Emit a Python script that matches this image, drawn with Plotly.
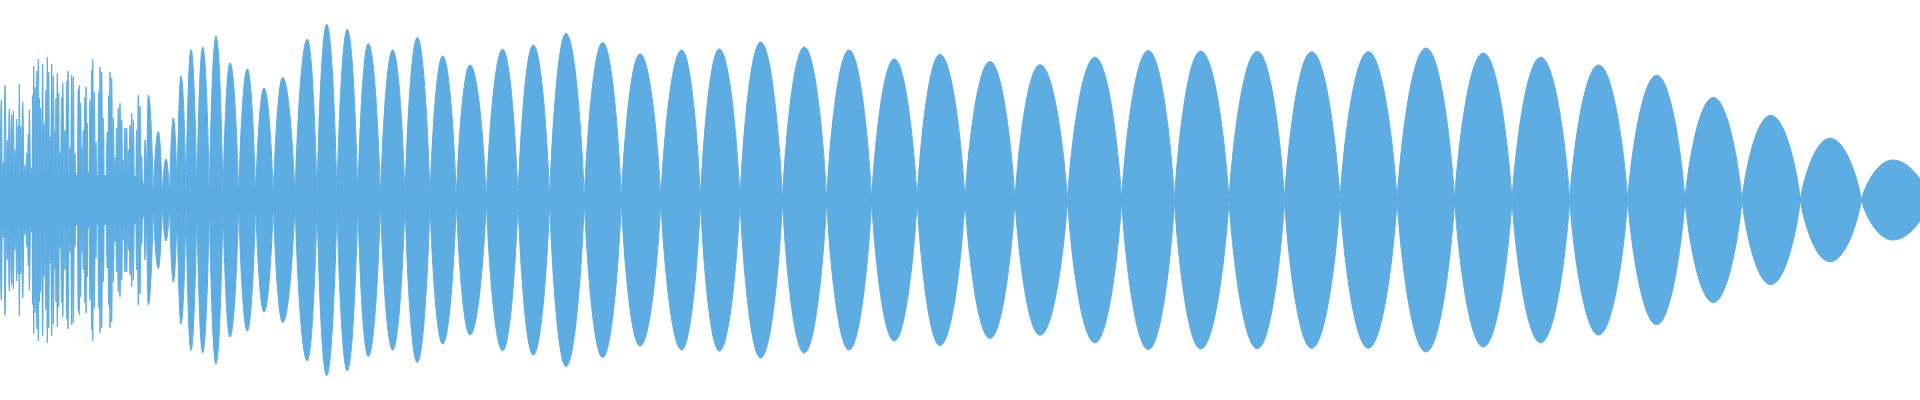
import numpy as np
import plotly.graph_objects as go

BLUE = "#5DADE2"

# dense spikes on the left (x in px-like units, amplitude from centre line)
spike_x = [1.3, 3.3, 5.0, 7.3, 9.3, 11.7, 13.3, 15.0, 16.7, 18.3, 19.3, 20.7, 22.7, 25.0,
           26.7, 28.3, 29.3, 31.7, 32.7, 33.7, 35.0, 37.0, 38.3, 39.5, 40.7, 42.7, 44.0,
           46.0, 47.3, 48.7, 50.0, 51.7, 53.3, 55.0, 56.0, 57.3, 58.7, 60.0, 61.7, 62.7,
           65.0, 66.7, 68.0, 70.0, 71.7, 73.3, 75.0, 76.7, 78.3, 79.3, 80.7, 81.7, 83.3,
           85.0, 86.0, 87.3, 88.3, 90.0, 91.7, 92.7, 94.3, 96.0, 97.3, 98.7, 100.0, 101.7,
           103.3, 105.0, 107.3, 108.7, 110.0, 111.7, 113.3, 115.0, 116.7, 118.3, 120.0,
           121.7, 123.3, 125.0, 126.7, 128.3, 130.0, 131.7, 133.3, 135.0, 136.7, 138.3,
           140.0, 141.7, 143.3, 145.0]
spike_amp = [100, 38, 115, 60, 91, 85, 89, 50, 81, 74, 116, 74, 98, 35, 47, 66, 90, 32,
             105, 134, 113, 129, 141, 102, 92, 136, 77, 110, 143, 128, 63, 136, 124, 70,
             102, 127, 107, 48, 103, 117, 70, 119, 129, 53, 125, 123, 47, 25, 111, 115,
             97, 52, 70, 103, 113, 77, 28, 100, 130, 141, 108, 58, 22, 108, 133, 128, 82,
             23, 68, 105, 128, 122, 82, 42, 72, 92, 97, 80, 40, 72, 72, 50, 75, 87, 80,
             20, 70, 105, 94, 45, 10, 60]

# wider lobes further right
lobe_x = [148.3, 158.3, 166.0, 173.3, 181.0, 191.0, 202.7, 216.0, 230.0, 247.3, 264.0,
          282.7, 307.3, 326.7, 347.3, 368.3, 392.7, 417.3, 442.7, 470.0, 502.7, 533.3,
          566.0, 602.7, 640.0, 681.7, 719.3, 760.7, 804.3, 849.0, 894.3, 940.0, 990.0,
          1040.0, 1095.0, 1148.3, 1200.7, 1257.3, 1311.7, 1368.3, 1426.0, 1483.3,
          1540.7, 1598.7, 1656.7, 1713.3, 1770.7, 1830.0, 1892.7]
lobe_amp = [105, 68.5, 41, 82, 124, 150.5, 153, 164, 137, 131, 112, 122.5, 160.7, 175.7,
            170.7, 156.5, 150, 162.5, 144, 135, 150.7, 155, 166.5, 157.5, 146, 150, 151,
            158, 153, 150, 141, 145.5, 138.5, 135.3, 142.8, 149.5, 149, 148.7, 148.3,
            148.3, 152, 147, 142.8, 135, 124.7, 102.5, 84.7, 61.7, 40]

# outer ends of the first and last lobe
edge_x = [0, 1930]

# solid band around the centre line
band_x = [0, 135, 152, 300, 600, 900, 1150, 1350, 1600, 1720]
band_amp = [26, 24, 10, 7.5, 6.5, 4.5, 3, 1.5, 1, 0]

px = np.array(spike_x + lobe_x)
pa = np.array(spike_amp + lobe_amp, dtype=float)
valleys = np.concatenate([[edge_x[0]], (px[:-1] + px[1:]) / 2, [edge_x[1]]])

# bezier handle factors for the lobe outline (tip handle / crest handle)
TIP_X, TIP_Y, CREST = 0.1, 0.33, 0.5


def lobe_path(v0, p, v1, a):
    l, r = p - v0, v1 - p
    segs = [f"M{v0},0",
            f"C{v0 + TIP_X * l},{TIP_Y * a} {p - CREST * l},{a} {p},{a}",
            f"C{p + CREST * r},{a} {v1 - TIP_X * r},{TIP_Y * a} {v1},0",
            f"C{v1 - TIP_X * r},{-TIP_Y * a} {p + CREST * r},{-a} {p},{-a}",
            f"C{p - CREST * l},{-a} {v0 + TIP_X * l},{-TIP_Y * a} {v0},0Z"]
    return " ".join(segs)


path = " ".join(lobe_path(valleys[i], px[i], valleys[i + 1], pa[i]) for i in range(len(px)))

fig = go.Figure()
fig.add_trace(go.Scatter(
    x=band_x + band_x[::-1], y=band_amp + [-v for v in band_amp[::-1]],
    mode="lines", line=dict(color=BLUE, width=1), fill="toself", fillcolor=BLUE,
    hoverinfo="skip", showlegend=False))
fig.add_shape(type="path", path=path, xref="x", yref="y",
              fillcolor=BLUE, line=dict(color=BLUE, width=1), layer="above")

fig.update_layout(
    width=1920, height=400,
    margin=dict(l=0, r=0, t=0, b=0),
    plot_bgcolor="white", paper_bgcolor="white",
    xaxis=dict(range=[0, 1920], visible=False),
    yaxis=dict(range=[-200, 200], visible=False),
)
fig.write_html("out.html", config={"displayModeBar": False},
               post_script="document.body.style.margin='0';document.body.style.overflow='hidden';")
